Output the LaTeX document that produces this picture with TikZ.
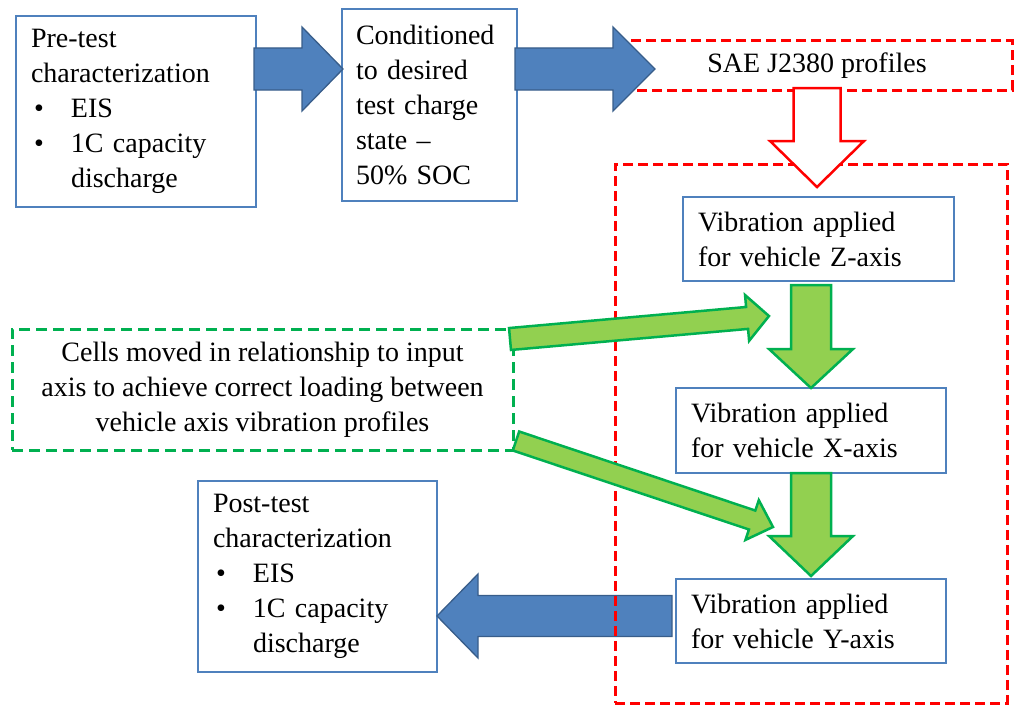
\documentclass[tikz,border=0pt]{standalone}
\usepackage{fontspec}
\setmainfont{Liberation Serif}
\usetikzlibrary{calc}
\definecolor{boxblue}{HTML}{4F81BD}
\definecolor{arrowblue}{HTML}{4F81BD}
\definecolor{arrowblueline}{HTML}{385D8A}
\definecolor{gfill}{HTML}{92D050}
\definecolor{gline}{HTML}{00B050}
\definecolor{rline}{HTML}{FF0000}
% block arrow: #1 style, #2 tail coordinate, #3 tip coordinate,
% #4 shaft half width, #5 head half width, #6 head length
\newcommand{\blockarrow}[6]{%
  \path let \p1=(#2), \p2=(#3) in \pgfextra{%
    \pgfmathsetmacro\baang{atan2(\y2-\y1,\x2-\x1)}%
    \pgfmathsetmacro\balen{veclen(\x2-\x1,\y2-\y1)}%
    \xdef\baAng{\baang}\xdef\baLen{\balen}};
  \draw[#1, shift={(#2)}, rotate=\baAng]
    (0,#4) -- ({\baLen-#6},#4) -- ({\baLen-#6},#5) -- (\baLen,0)
    -- ({\baLen-#6},-#5) -- ({\baLen-#6},-#4) -- (0,-#4) -- cycle;
}
\tikzset{
  txt/.style={font=\rmfamily\fontsize{28}{35}\selectfont},
  stagebox/.style={draw=boxblue, line width=1.3pt, fill=white, txt,
    inner xsep=15pt, inner ysep=0pt, align=left},
  reddash/.style={draw=rline, line width=3pt, dash pattern=on 10pt off 5pt},
  greendash/.style={draw=gline, line width=3pt, dash pattern=on 11pt off 6pt},
  bluearrow/.style={fill=arrowblue, draw=arrowblueline, line width=1.3pt, line join=miter},
  greenarrow/.style={fill=gfill, draw=gline, line width=2.5pt, line join=miter},
  hollowarrow/.style={fill=white, draw=rline, line width=2.5pt, line join=miter},
}
\begin{document}
\begin{tikzpicture}[x=1pt,y=-1pt]
\useasboundingbox (0,0) rectangle (1024,717);

% stage boxes
\node[stagebox, text width=210pt, minimum height=191pt] (pre) at (136,111.5)
  {Pre-test\\characterization\\\makebox[40pt][l]{\hspace{3pt}\textbullet}EIS\\\makebox[40pt][l]{\hspace{3pt}\textbullet}1C capacity\\\hspace*{40pt}discharge};
\node[stagebox, text width=147pt, minimum height=192pt, inner xsep=14pt] (cond) at (429.5,105)
  {Conditioned\\to desired\\test charge\\state –\\50\% SOC};

% SAE dashed box
\node[reddash, minimum width=390pt, minimum height=49pt, txt] (sae) at (817,65.5) {SAE J2380 profiles};

% blue arrows along the top
\coordinate (b1t) at (254,69);
\coordinate (b1h) at (343,69);
\blockarrow{bluearrow}{b1t}{b1h}{21}{42}{41}
\coordinate (b2t) at (515,69);
\coordinate (b2h) at (655,69);
\blockarrow{bluearrow}{b2t}{b2h}{21}{42}{42}

% post-test box and left arrow
\node[stagebox, text width=209pt, minimum height=191pt, inner xsep=15pt] (post) at (317.5,576.5)
  {Post-test\\characterization\\\makebox[40pt][l]{\hspace{3pt}\textbullet}EIS\\\makebox[40pt][l]{\hspace{3pt}\textbullet}1C capacity\\\hspace*{40pt}discharge};
\coordinate (blt) at (672,616);
\coordinate (blh) at (437,616);
\blockarrow{bluearrow}{blt}{blh}{20.5}{42}{41}

% big red dashed group
\node[reddash, minimum width=392pt, minimum height=539pt] (grp) at (811,433.5) {};

% hollow red arrow
\coordinate (rt) at (817,88);
\coordinate (rh) at (817,187);
\blockarrow{hollowarrow}{rt}{rh}{23.5}{47}{46}

% vibration boxes
\node[stagebox, text width=241pt, minimum height=84pt] (vz) at (818.5,239)
  {Vibration applied\\for vehicle Z-axis};
\node[stagebox, text width=240pt, minimum height=85pt] (vx) at (811,430.5)
  {Vibration applied\\for vehicle X-axis};
\node[stagebox, text width=240pt, minimum height=84pt] (vy) at (811,621)
  {Vibration applied\\for vehicle Y-axis};

% green down arrows
\coordinate (g1t) at (811,285);
\coordinate (g1h) at (811,388);
\blockarrow{greenarrow}{g1t}{g1h}{20}{42}{39}
\coordinate (g2t) at (811,473);
\coordinate (g2h) at (811,576);
\blockarrow{greenarrow}{g2t}{g2h}{20}{42}{40}

% green dashed note box
\node[greendash, minimum width=501pt, minimum height=121pt, txt, align=center, inner sep=0pt] (note) at (262.5,389.5)
  {Cells moved in relationship to input\\axis to achieve correct loading between\\vehicle axis vibration profiles};

% green diagonal arrows
\coordinate (d1t) at (510,339);
\coordinate (d1h) at (769,316);
\blockarrow{greenarrow}{d1t}{d1h}{11}{23}{22}
\coordinate (d2t) at (516,441);
\coordinate (d2h) at (773,527);
\blockarrow{greenarrow}{d2t}{d2h}{10}{21}{22}
\end{tikzpicture}
\end{document}
